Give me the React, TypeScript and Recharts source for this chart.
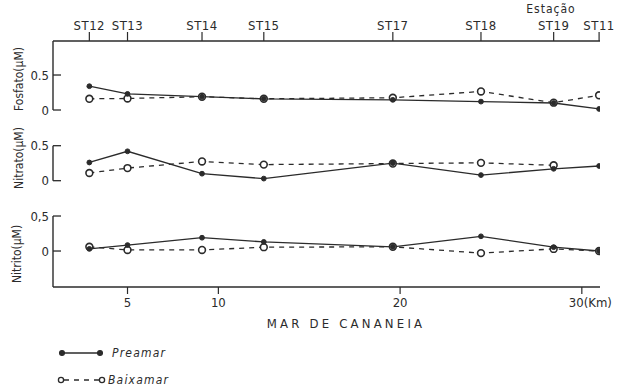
import { LineChart, Line, XAxis, YAxis, ReferenceLine } from "recharts";

// Stations along the Mar de Cananéia and their distance (km)
const stations = ["ST12", "ST13", "ST14", "ST15", "ST17", "ST18", "ST19", "ST11"];
const stationKm = [2.9, 5.0, 9.1, 12.5, 19.6, 24.45, 28.45, 30.95];
const kmTicks = [5, 10, 20, 30];

// Concentrations (µM), high tide (preamar) and low tide (baixamar)
const fosfatoPreamar = [0.34, 0.23, 0.19, 0.16, 0.145, 0.12, 0.1, 0.015];
const fosfatoBaixamar = [0.16, 0.165, 0.19, 0.16, 0.175, 0.265, 0.105, 0.21];
const nitratoPreamar = [0.26, 0.42, 0.1, 0.03, 0.25, 0.08, 0.17, 0.21];
const nitratoBaixamar = [0.11, 0.18, 0.275, 0.23, 0.245, 0.255, 0.22, null];
const nitritoPreamar = [0.03, 0.085, 0.19, 0.13, 0.06, 0.21, 0.055, 0.0];
const nitritoBaixamar = [0.06, 0.015, 0.015, 0.055, 0.06, -0.03, 0.03, 0.0];

const data = stationKm.map((km, i) => ({
  km,
  fosP: fosfatoPreamar[i],
  fosB: fosfatoBaixamar[i],
  nitraP: nitratoPreamar[i],
  nitraB: nitratoBaixamar[i],
  nitriP: nitritoPreamar[i],
  nitriB: nitritoBaixamar[i],
}));

const INK = "#2b2b2b";
const FONT = "'DejaVu Sans Condensed', 'Liberation Sans Narrow', 'DejaVu Sans', sans-serif";
const X_DOMAIN: [number, number] = [0.9, 31];

// each panel shares the same plot height; domains place its zero line in its own band
const fosDomain: [number, number] = [-2.529, 0.986];
const nitraDomain: [number, number] = [-1.519, 1.996];
const nitriDomain: [number, number] = [-0.514, 3.0];

// ticks point inward, labels sit to the left of the axis
const makeYTick = (half: string) => (props: any) => {
  const { x, y, payload } = props;
  return (
    <g>
      <line x1={x} x2={x + 8} y1={y} y2={y} stroke={INK} strokeWidth={1.3} />
      <text x={x - 4} y={y} dy={4.5} textAnchor="end" fontSize={13} fill={INK} fontFamily={FONT}>
        {payload.value === 0 ? "0" : half}
      </text>
    </g>
  );
};

const KmTick = (props: any) => {
  const { x, y, payload } = props;
  const last = payload.value === 30;
  return (
    <text x={last ? x - 13 : x} y={y} dy={11} textAnchor={last ? "start" : "middle"} fontSize={13} fill={INK} fontFamily={FONT}>
      {last ? "30(Km)" : payload.value}
    </text>
  );
};

const StationTick = (props: any) => {
  const { x, y, payload } = props;
  const idx = stationKm.indexOf(payload.value);
  return (
    <text x={x} y={y} textAnchor="middle" fontSize={13} fill={INK} fontFamily={FONT} letterSpacing={0.5}>
      {stations[idx]}
    </text>
  );
};

const solid = { stroke: INK, strokeWidth: 1.3 };
const filledDot = { r: 2.4, fill: INK, stroke: INK, strokeWidth: 1, strokeDasharray: "none" };
const openDot = { r: 3.4, fill: "#fff", stroke: INK, strokeWidth: 1.6, strokeDasharray: "none" };

export default function App() {
  return (
    <div style={{ position: "absolute", left: 0, top: 0, width: 624, height: 387, background: "#fff" }}>
      <LineChart width={624} height={387} data={data} margin={{ top: 11, right: 24, left: 50, bottom: 70 }}>
        <XAxis
          xAxisId="st"
          orientation="top"
          type="number"
          dataKey="km"
          domain={X_DOMAIN}
          ticks={stationKm}
          height={30}
          tickSize={9}
          tickMargin={2}
          axisLine={{ stroke: INK, strokeWidth: 1.4 }}
          tickLine={{ stroke: INK, strokeWidth: 1.2 }}
          tick={<StationTick />}
          allowDataOverflow
        />
        <XAxis
          xAxisId="km"
          orientation="bottom"
          type="number"
          dataKey="km"
          domain={X_DOMAIN}
          ticks={kmTicks}
          height={30}
          tickSize={7}
          tickMargin={2}
          axisLine={{ stroke: INK, strokeWidth: 1.4 }}
          tickLine={{ stroke: INK, strokeWidth: 1.2 }}
          tick={<KmTick />}
          allowDataOverflow
        />
        {/* three stacked 1px-wide axes; negative margins pull their ticks back onto the plot edge */}
        <YAxis yAxisId="fos" type="number" domain={fosDomain} ticks={[0, 0.5]} width={1} tickSize={0} tickMargin={0}
          axisLine={false} tickLine={false} tick={makeYTick("0.5")} allowDataOverflow />
        <YAxis yAxisId="nitra" type="number" domain={nitraDomain} ticks={[0, 0.5]} width={1} tickSize={0} tickMargin={-1}
          axisLine={false} tickLine={false} tick={makeYTick("0.5")} allowDataOverflow />
        <YAxis yAxisId="nitri" type="number" domain={nitriDomain} ticks={[0, 0.5]} width={1} tickSize={0} tickMargin={-2}
          axisLine={false} tickLine={false} tick={makeYTick("0,5")} allowDataOverflow />

        {/* broken left axis: one segment per panel */}
        <ReferenceLine xAxisId="km" yAxisId="fos" segment={[{ x: X_DOMAIN[0], y: fosDomain[1] }, { x: X_DOMAIN[0], y: 0 }]} stroke={INK} strokeWidth={1.4} />
        <ReferenceLine xAxisId="km" yAxisId="nitra" segment={[{ x: X_DOMAIN[0], y: 0.5 }, { x: X_DOMAIN[0], y: 0 }]} stroke={INK} strokeWidth={1.4} />
        <ReferenceLine xAxisId="km" yAxisId="nitri" segment={[{ x: X_DOMAIN[0], y: 0.5 }, { x: X_DOMAIN[0], y: nitriDomain[0] }]} stroke={INK} strokeWidth={1.4} />

        <Line xAxisId="km" yAxisId="fos" dataKey="fosB" {...solid} strokeDasharray="5 5" dot={openDot} isAnimationActive={false} />
        <Line xAxisId="km" yAxisId="fos" dataKey="fosP" {...solid} dot={filledDot} isAnimationActive={false} />
        <Line xAxisId="km" yAxisId="nitra" dataKey="nitraB" {...solid} strokeDasharray="5 5" dot={openDot} isAnimationActive={false} />
        <Line xAxisId="km" yAxisId="nitra" dataKey="nitraP" {...solid} dot={filledDot} isAnimationActive={false} />
        <Line xAxisId="km" yAxisId="nitri" dataKey="nitriB" {...solid} strokeDasharray="5 5" dot={openDot} isAnimationActive={false} />
        <Line xAxisId="km" yAxisId="nitri" dataKey="nitriP" {...solid} dot={filledDot} isAnimationActive={false} />
      </LineChart>

      <svg width={624} height={387} style={{ position: "absolute", left: 0, top: 0, pointerEvents: "none" }}>
        <g fontFamily={FONT} fill={INK} fontSize={12}>
          <text transform="translate(23,79) rotate(-90)" textAnchor="middle">Fosfato(µM)</text>
          <text transform="translate(23,158) rotate(-90)" textAnchor="middle">Nitrato(µM)</text>
          <text transform="translate(21,254) rotate(-90)" textAnchor="middle">Nitrito(µM)</text>
          <text x={551} y={13} textAnchor="middle" fontSize={12} letterSpacing={1}>Estação</text>
          <text x={346} y={328} textAnchor="middle" fontSize={13} letterSpacing={3.2}>MAR DE CANANEIA</text>
        </g>
        {/* legend */}
        <g stroke={INK} strokeWidth={1.3}>
          <line x1={62} x2={100} y1={353} y2={353} />
          <circle cx={62} cy={353} r={2.4} fill={INK} />
          <circle cx={100} cy={353} r={2.4} fill={INK} />
          <line x1={64} x2={99} y1={380} y2={380} strokeDasharray="5 5" />
          <circle cx={61} cy={380} r={2.6} fill="#fff" />
          <circle cx={102} cy={380} r={2.6} fill="#fff" />
        </g>
        <g fontFamily={FONT} fill={INK} fontSize={12} fontStyle="italic" letterSpacing={1.2}>
          <text x={112} y={357}>Preamar</text>
          <text x={108} y={384}>Baixamar</text>
        </g>
      </svg>
    </div>
  );
}
